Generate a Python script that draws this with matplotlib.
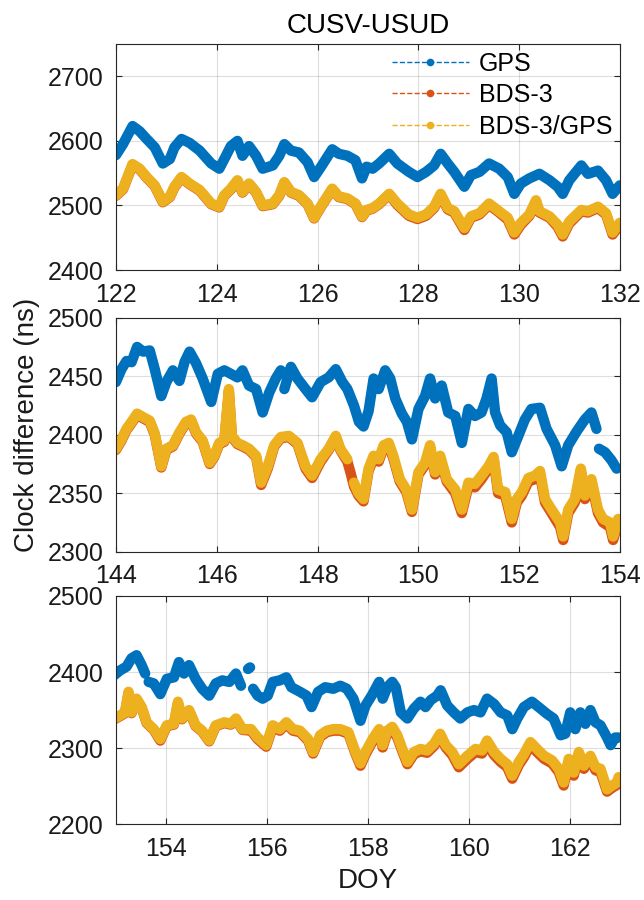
import numpy as np
import matplotlib
matplotlib.use('Agg')
import matplotlib.pyplot as plt
from matplotlib.lines import Line2D

plt.rcParams['font.family'] = ['Liberation Sans', 'DejaVu Sans']

nan = np.nan

# ---------------- data (DOY, clock difference in ns) ----------------
# Panel 1: DOY 122-132
doy1_gps = [122.00, 122.14, 122.33, 122.47, 122.61, 122.77, 122.93, 123.07, 123.16, 123.30,
            123.46, 123.66, 123.89, 124.05, 124.15, 124.28, 124.41, 124.51, 124.64, 124.78,
            124.91, 125.11, 125.24, 125.34, 125.47, 125.63, 125.80, 125.93, 126.06, 126.29,
            126.42, 126.59, 126.75, 126.88, 126.97, 127.09, 127.22, 127.42, 127.58, 127.81,
            127.98, 128.15, 128.31, 128.44, 128.58, 128.71, 128.91, 129.04, 129.21, 129.40,
            129.60, 129.77, 129.90, 130.03, 130.20, 130.40, 130.60, 130.76, 130.86, 130.99,
            131.23, 131.36, 131.56, 131.72, 131.85, 131.99]
gps1 = [2578, 2595, 2623, 2615, 2603, 2590, 2565, 2572, 2590, 2603,
        2597, 2585, 2565, 2557, 2572, 2592, 2600, 2577, 2592, 2577,
        2557, 2562, 2577, 2595, 2585, 2582, 2567, 2544, 2559, 2587,
        2580, 2577, 2570, 2542, 2560, 2557, 2565, 2580, 2565, 2552,
        2544, 2552, 2562, 2580, 2565, 2552, 2529, 2547, 2552, 2565,
        2557, 2544, 2518, 2534, 2542, 2549, 2539, 2529, 2518, 2539,
        2562, 2549, 2554, 2539, 2518, 2531]

doy1_bds = [122.00, 122.14, 122.33, 122.47, 122.61, 122.77, 122.93, 123.07, 123.16, 123.30,
            123.46, 123.66, 123.89, 124.05, 124.15, 124.28, 124.41, 124.51, 124.64, 124.78,
            124.91, 125.11, 125.24, 125.34, 125.47, 125.63, 125.80, 125.93, 126.06, 126.29,
            126.42, 126.59, 126.75, 126.88, 126.97, 127.09, 127.22, 127.42, 127.58, 127.81,
            127.98, 128.15, 128.31, 128.44, 128.58, 128.71, 128.91, 129.04, 129.21, 129.40,
            129.60, 129.77, 129.90, 130.03, 130.20, 130.33, 130.40, 130.60, 130.76, 130.86,
            130.99, 131.23, 131.36, 131.56, 131.72, 131.85, 131.99]
bds1 = [2515, 2525, 2563, 2556, 2543, 2530, 2505, 2513, 2528, 2543,
        2533, 2523, 2502, 2497, 2515, 2525, 2538, 2520, 2533, 2520,
        2499, 2502, 2515, 2535, 2520, 2515, 2502, 2480, 2497, 2525,
        2513, 2510, 2502, 2482, 2492, 2495, 2502, 2517, 2501, 2484,
        2479, 2484, 2496, 2516, 2494, 2489, 2462, 2481, 2486, 2501,
        2489, 2478, 2455, 2470, 2484, 2506, 2489, 2481, 2467, 2452,
        2472, 2491, 2489, 2496, 2486, 2455, 2470]
combo1 = [2516, 2526, 2564, 2557, 2544, 2531, 2506, 2514, 2529, 2544,
          2534, 2524, 2503, 2498, 2516, 2526, 2539, 2521, 2534, 2521,
          2500, 2503, 2516, 2536, 2521, 2516, 2503, 2481, 2498, 2526,
          2514, 2511, 2503, 2483, 2493, 2496, 2503, 2518, 2503, 2486,
          2481, 2486, 2498, 2518, 2496, 2491, 2465, 2483, 2488, 2503,
          2491, 2481, 2458, 2473, 2486, 2508, 2491, 2483, 2470, 2455,
          2475, 2493, 2491, 2498, 2488, 2458, 2473]

# Panel 2: DOY 144-154
doy2_gps = [144.00, 144.11, 144.21, 144.31, 144.42, 144.54, 144.67, 144.77, 144.90, 145.00,
            145.13, 145.26, 145.36, 145.46, 145.59, 145.72, 145.89, 146.02, 146.15, 146.28,
            146.41, 146.51, 146.64, 146.78, 146.91, 147.04, 147.17, 147.27, 147.30, 147.34,
            147.47, 147.60, 147.76, 147.89, 148.06, 148.22, 148.36, 148.49, 148.59, 148.72,
            148.82, 148.91, 149.01, 149.11, 149.21, 149.34, 149.44, 149.54, 149.67, 149.77,
            149.87, 150.00, 150.13, 150.23, 150.33, 150.46, 150.59, 150.73, 150.86, 150.99,
            151.12, 151.25, 151.35, 151.45, 151.52, 151.62, 151.75, 151.85, 151.98, 152.11,
            152.24, 152.41, 152.54, 152.71, 152.84, 152.97, 153.14, 153.30, 153.43, 153.53,
            153.56, 153.58, 153.70, 153.83, 153.93]
gps2 = [2445, 2456, 2463, 2462, 2475, 2471, 2472, 2456, 2433, 2445,
        2455, 2446, 2462, 2471, 2461, 2448, 2428, 2452, 2455, 2452,
        2449, 2455, 2442, 2439, 2419, 2436, 2448, 2455, nan, 2439,
        2458, 2448, 2439, 2432, 2445, 2449, 2456, 2445, 2439, 2425,
        2411, 2407, 2420, 2448, 2439, 2455, 2448, 2431, 2418, 2411,
        2396, 2422, 2433, 2448, 2431, 2442, 2419, 2416, 2393, 2422,
        2416, 2419, 2431, 2448, 2419, 2408, 2402, 2385, 2399, 2413,
        2422, 2423, 2405, 2391, 2373, 2391, 2403, 2413, 2419, 2405,
        nan, 2388, 2385, 2378, 2371]

doy2_bds = [144.00, 144.11, 144.21, 144.31, 144.42, 144.54, 144.67, 144.77, 144.90, 145.00,
            145.13, 145.26, 145.39, 145.49, 145.59, 145.72, 145.86, 145.95, 146.05, 146.15,
            146.24, 146.30, 146.41, 146.51, 146.64, 146.78, 146.88, 147.01, 147.14, 147.27,
            147.43, 147.60, 147.76, 147.89, 148.06, 148.22, 148.36, 148.45, 148.59, 148.65,
            148.72, 148.81, 148.91, 149.01, 149.11, 149.21, 149.31, 149.41, 149.50, 149.63,
            149.76, 149.87, 150.00, 150.13, 150.23, 150.33, 150.43, 150.56, 150.73, 150.86,
            150.99, 151.12, 151.25, 151.39, 151.49, 151.58, 151.72, 151.85, 151.95, 152.05,
            152.18, 152.31, 152.41, 152.51, 152.64, 152.81, 152.87, 152.97, 153.10, 153.22,
            153.30, 153.43, 153.56, 153.66, 153.80, 153.86, 153.96]
bds2 = [2387, 2395, 2404, 2410, 2417, 2414, 2411, 2400, 2372, 2387,
        2390, 2401, 2410, 2412, 2401, 2394, 2375, 2381, 2392, 2394,
        2437, 2398, 2392, 2390, 2387, 2381, 2357, 2371, 2390, 2397,
        2398, 2392, 2371, 2363, 2377, 2387, 2398, 2387, 2377, 2368,
        2356, 2348, 2343, 2369, 2380, 2377, 2389, 2391, 2380, 2360,
        2351, 2334, 2366, 2374, 2389, 2366, 2380, 2360, 2350, 2333,
        2356, 2355, 2362, 2371, 2379, 2350, 2348, 2325, 2342, 2348,
        2360, 2362, 2366, 2342, 2333, 2321, 2310, 2333, 2342, 2369,
        2345, 2359, 2333, 2325, 2321, 2310, 2325]
combo2 = [2388, 2396, 2405, 2411, 2418, 2415, 2412, 2401, 2373, 2388,
          2391, 2402, 2411, 2413, 2402, 2395, 2376, 2382, 2393, 2395,
          2439, 2399, 2393, 2391, 2388, 2382, 2359, 2373, 2391, 2398,
          2399, 2393, 2373, 2365, 2379, 2388, 2399, 2388, 2379, nan,
          2359, 2350, 2345, 2371, 2382, 2379, 2391, 2393, 2382, 2362,
          2353, 2336, 2368, 2376, 2391, 2368, 2382, 2362, 2353, 2336,
          2359, 2358, 2365, 2373, 2381, 2353, 2351, 2328, 2345, 2351,
          2363, 2365, 2369, 2345, 2336, 2325, 2313, 2336, 2345, 2371,
          2348, 2362, 2336, 2328, 2325, 2313, 2328]

# Panel 3: DOY 153-163
doy3_gps = [152.97, 153.08, 153.21, 153.31, 153.41, 153.51, 153.58, 153.61, 153.65, 153.75,
            153.88, 154.01, 154.15, 154.25, 154.35, 154.45, 154.58, 154.71, 154.85, 154.98,
            155.11, 155.25, 155.38, 155.48, 155.55, 155.62, 155.66, 155.68, 155.72, 155.81,
            155.91, 156.01, 156.11, 156.25, 156.38, 156.48, 156.65, 156.78, 156.88, 157.01,
            157.15, 157.31, 157.45, 157.58, 157.71, 157.85, 157.95, 158.09, 158.22, 158.29,
            158.38, 158.48, 158.55, 158.65, 158.78, 158.91, 159.04, 159.14, 159.24, 159.37,
            159.44, 159.57, 159.70, 159.83, 159.97, 160.10, 160.23, 160.36, 160.50, 160.63,
            160.76, 160.86, 160.96, 161.09, 161.25, 161.42, 161.55, 161.68, 161.82, 161.91,
            162.01, 162.11, 162.21, 162.31, 162.41, 162.51, 162.61, 162.74, 162.81, 162.90,
            162.97]
gps3 = [2396, 2402, 2407, 2418, 2422, 2409, 2398, nan, 2387, 2385,
        2371, 2391, 2393, 2413, 2398, 2409, 2391, 2378, 2369, 2385,
        2389, 2387, 2398, 2382, nan, 2404, 2406, nan, 2378, 2369,
        2365, 2369, 2387, 2389, 2393, 2380, 2374, 2369, 2354, 2374,
        2380, 2378, 2382, 2378, 2365, 2336, 2356, 2371, 2387, 2365,
        2380, 2387, 2380, 2347, 2339, 2352, 2361, 2354, 2363, 2369,
        2376, 2356, 2347, 2339, 2347, 2350, 2347, 2365, 2358, 2347,
        2343, 2325, 2339, 2354, 2361, 2352, 2345, 2339, 2317, 2319,
        2347, 2325, 2347, 2332, 2350, 2334, 2330, 2314, 2304, 2314,
        2314]

doy3_bds = [152.97, 153.08, 153.18, 153.25, 153.31, 153.41, 153.51, 153.61, 153.75, 153.88,
            154.01, 154.15, 154.23, 154.31, 154.45, 154.58, 154.71, 154.85, 154.98, 155.15,
            155.28, 155.38, 155.51, 155.68, 155.81, 155.98, 156.11, 156.25, 156.38, 156.51,
            156.65, 156.81, 156.91, 157.05, 157.18, 157.31, 157.45, 157.61, 157.75, 157.85,
            157.95, 158.09, 158.22, 158.29, 158.38, 158.48, 158.58, 158.68, 158.78, 158.91,
            159.04, 159.17, 159.31, 159.43, 159.54, 159.67, 159.80, 159.97, 160.13, 160.26,
            160.36, 160.50, 160.63, 160.76, 160.86, 160.99, 161.09, 161.22, 161.35, 161.49,
            161.65, 161.78, 161.88, 161.98, 162.08, 162.18, 162.28, 162.41, 162.51, 162.61,
            162.74, 162.84, 162.94, 162.97]
bds3 = [2338, 2342, 2346, 2372, 2346, 2364, 2353, 2333, 2324, 2310,
        2329, 2331, 2359, 2338, 2349, 2329, 2322, 2309, 2329, 2333,
        2331, 2338, 2324, 2323, 2312, 2302, 2328, 2323, 2332, 2323,
        2321, 2310, 2293, 2315, 2321, 2323, 2323, 2319, 2293, 2277,
        2292, 2309, 2322, 2301, 2320, 2325, 2314, 2296, 2279, 2292,
        2296, 2294, 2303, 2316, 2301, 2291, 2275, 2286, 2295, 2293,
        2306, 2291, 2282, 2275, 2260, 2278, 2288, 2304, 2295, 2286,
        2280, 2269, 2251, 2282, 2264, 2291, 2273, 2286, 2271, 2269,
        2243, 2248, 2252, 2259]
combo3 = [2339, 2343, 2347, 2374, 2347, 2365, 2354, 2334, 2325, 2312,
          2330, 2332, 2361, 2339, 2350, 2330, 2323, 2310, 2330, 2334,
          2332, 2339, 2325, 2325, 2314, 2304, 2330, 2325, 2334, 2325,
          2323, 2312, 2295, 2317, 2323, 2325, 2325, 2321, 2295, 2280,
          2295, 2312, 2325, 2304, 2323, 2328, 2317, 2299, 2282, 2295,
          2299, 2297, 2306, 2319, 2304, 2295, 2279, 2290, 2299, 2297,
          2310, 2295, 2286, 2279, 2264, 2282, 2292, 2308, 2299, 2290,
          2284, 2273, 2255, 2286, 2268, 2295, 2277, 2290, 2275, 2273,
          2246, 2251, 2255, 2262]

labels = ['GPS', 'BDS-3', 'BDS-3/GPS']
colors = ['#0072BD', '#D95319', '#EDB120']

panels = [
    dict(gps=(doy1_gps, gps1), bds=(doy1_bds, bds1), combo=(doy1_bds, combo1),
         xlim=(122, 132), ylim=(2400, 2750), yticks=[2400, 2500, 2600, 2700]),
    dict(gps=(doy2_gps, gps2), bds=(doy2_bds, bds2), combo=(doy2_bds, combo2),
         xlim=(144, 154), ylim=(2300, 2500), yticks=[2300, 2350, 2400, 2450, 2500]),
    dict(gps=(doy3_gps, gps3), bds=(doy3_bds, bds3), combo=(doy3_bds, combo3),
         xlim=(153, 163), ylim=(2200, 2500), yticks=[2200, 2300, 2400, 2500]),
]

# axes rectangles in figure fraction (left, bottom, width, height)
rects = [(0.180, 0.700, 0.783, 0.251),
         (0.180, 0.387, 0.783, 0.260),
         (0.180, 0.084, 0.783, 0.254)]

fig = plt.figure(figsize=(6.44, 9.0), dpi=100)
axes = []
for p, r in zip(panels, rects):
    ax = fig.add_axes(r)
    for key, c in zip(['gps', 'bds', 'combo'], colors):
        x, y = p[key]
        ax.plot(x, y, color=c, lw=7.5, solid_joinstyle='round',
                solid_capstyle='round', zorder=2)
    ax.set_xlim(*p['xlim'])
    ax.set_ylim(*p['ylim'])
    ax.set_xticks(np.arange(p['xlim'][0] + (p['xlim'][0] % 2), p['xlim'][1] + 1, 2))
    ax.set_yticks(p['yticks'])
    ax.grid(True, color='#262626', alpha=0.15, lw=0.8)
    ax.set_axisbelow(True)
    ax.tick_params(direction='in', top=True, right=True, length=4, width=0.8,
                   labelsize=18, pad=9, colors='#262626', labelcolor='#1a1a1a')
    for s in ax.spines.values():
        s.set_color('#262626')
        s.set_linewidth(0.8)
    axes.append(ax)

axes[0].set_title('CUSV-USUD', fontsize=20, pad=8)

handles = [Line2D([], [], color=c, ls='--', lw=1.0, marker='.', markersize=9)
           for c in colors]
axes[0].legend(handles, labels, loc='upper right', frameon=False, fontsize=18,
               handlelength=3.1, handletextpad=0.4, labelspacing=0.3,
               borderaxespad=0.1, borderpad=0.2)

fig.text(0.042, 0.528, 'Clock difference (ns)', rotation=90, fontsize=20,
         ha='center', va='center', color='#1a1a1a')
fig.text(0.571, 0.021, 'DOY', fontsize=20, ha='center', va='center', color='#1a1a1a')

fig.savefig('out.png', dpi=100)
